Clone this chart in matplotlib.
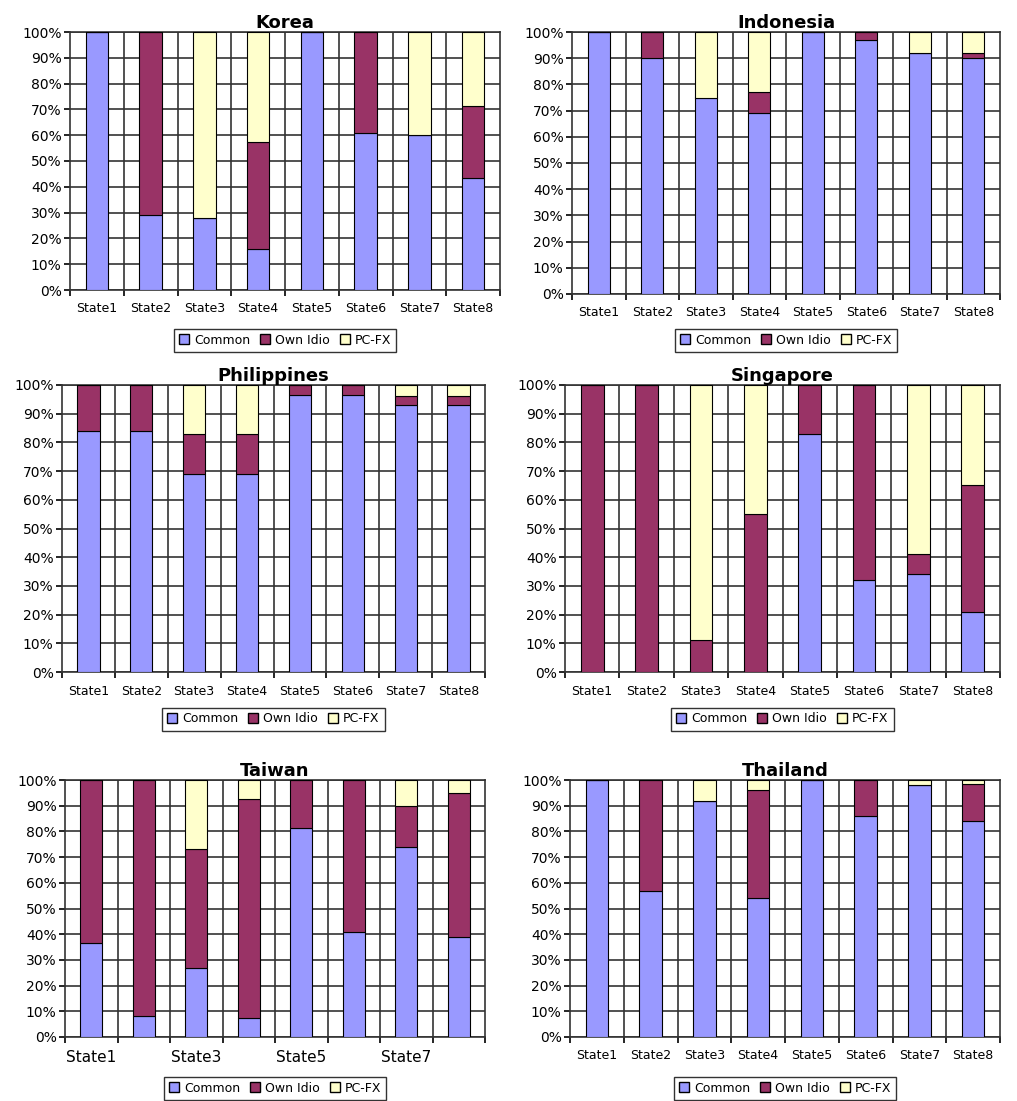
import matplotlib
matplotlib.use("Agg")
import matplotlib.pyplot as plt
import numpy as np
from matplotlib.patches import Patch

states = ["State1","State2","State3","State4","State5","State6","State7","State8"]
series = ["Common", "Own Idio", "PC-FX"]
colors = ["#9999FF", "#993366", "#FFFFCC"]

korea_common = [100, 29, 28, 16, 100, 61, 60, 43.5]
korea_idio   = [0, 71, 0, 41.5, 0, 39, 0, 28]
korea_fx     = [0, 0, 72, 42.5, 0, 0, 40, 28.5]
indo_common = [100, 90, 75, 69, 100, 97, 92, 90]
indo_idio   = [0, 10, 0, 8, 0, 3, 0, 2]
indo_fx     = [0, 0, 25, 23, 0, 0, 8, 8]
phil_common = [84, 84, 69, 69, 96.5, 96.5, 93, 93]
phil_idio   = [16, 16, 14, 14, 3.5, 3.5, 3, 3]
phil_fx     = [0, 0, 17, 17, 0, 0, 4, 4]
sing_common = [0, 0, 0, 0, 83, 32, 34, 21]
sing_idio   = [100, 100, 11, 55, 17, 68, 7, 44]
sing_fx     = [0, 0, 89, 45, 0, 0, 59, 35]
taiw_common = [36.5, 8, 27, 7.5, 81.5, 41, 74, 39]
taiw_idio   = [63.5, 92, 46, 85, 18.5, 59, 16, 56]
taiw_fx     = [0, 0, 27, 7.5, 0, 0, 10, 5]
thai_common = [100, 57, 92, 54, 100, 86, 98, 84]
thai_idio   = [0, 43, 0, 42, 0, 14, 0, 14.5]
thai_fx     = [0, 0, 8, 4, 0, 0, 2, 1.5]

panels = [
    ("Korea", korea_common, korea_idio, korea_fx, [70, 32, 500, 290], 340, False),
    ("Indonesia", indo_common, indo_idio, indo_fx, [572, 32, 1000, 294], 340, False),
    ("Philippines", phil_common, phil_idio, phil_fx, [62, 385, 485, 672], 719, False),
    ("Singapore", sing_common, sing_idio, sing_fx, [565, 385, 1000, 672], 719, False),
    ("Taiwan", taiw_common, taiw_idio, taiw_fx, [65, 780, 485, 1037], 1088, True),
    ("Thailand", thai_common, thai_idio, thai_fx, [570, 780, 1000, 1037], 1088, False),
]

W, H = 1017, 1101
fig = plt.figure(figsize=(W/100, H/100), dpi=100)
fig.patch.set_facecolor("white")

for title, c, i, f, (x0, y0, x1, y1), legy, sparse in panels:
    ax = fig.add_axes([x0/W, 1-y1/H, (x1-x0)/W, (y1-y0)/H])
    x = np.arange(len(states))
    c = np.array(c); i = np.array(i); f = np.array(f)
    kw = dict(width=0.42, edgecolor="black", linewidth=0.8, zorder=3)
    ax.bar(x, c, color=colors[0], **kw)
    ax.bar(x, i, bottom=c, color=colors[1], **kw)
    ax.bar(x, f, bottom=c+i, color=colors[2], **kw)
    ax.set_xlim(-0.5, 7.5)
    ax.set_ylim(0, 100)
    ax.set_yticks(np.arange(0, 101, 10))
    ax.set_yticklabels([f"{v}%" for v in range(0, 101, 10)], fontsize=10)
    ax.yaxis.grid(True, color="#333333", linewidth=1.2, zorder=0)
    for b in np.arange(0.5, 7.5, 1):
        ax.axvline(b, color="#333333", linewidth=1.2, zorder=0)
    ax.set_xticks(np.arange(-0.5, 8, 1))
    ax.set_xticklabels([])
    ax.tick_params(axis="x", length=4, width=1.2, direction="out")
    ax.tick_params(axis="y", length=4, width=1.2, direction="out", pad=2)
    if sparse:
        for k in (0, 2, 4, 6):
            ax.text(k, -5, states[k], ha="center", va="top", fontsize=11, transform=ax.transData)
    else:
        for k in range(8):
            ax.text(k, -4.5, states[k], ha="center", va="top", fontsize=9, transform=ax.transData)
    for s in ax.spines.values():
        s.set_color("#333333"); s.set_linewidth(1.2)
    ax.set_title(title, fontsize=13, fontweight="bold", pad=3)
    handles = [Patch(facecolor=colors[k], edgecolor="black", label=series[k]) for k in range(3)]
    leg = fig.legend(handles=handles, loc="center", ncol=3,
                     bbox_to_anchor=((x0+x1)/2/W, 1-legy/H), fontsize=9, frameon=True,
                     fancybox=False, edgecolor="black", handlelength=0.8, handleheight=0.8,
                     handletextpad=0.4, columnspacing=0.8, borderpad=0.4)
    leg.get_frame().set_linewidth(1.0)

fig.savefig("out.png", dpi=100)
